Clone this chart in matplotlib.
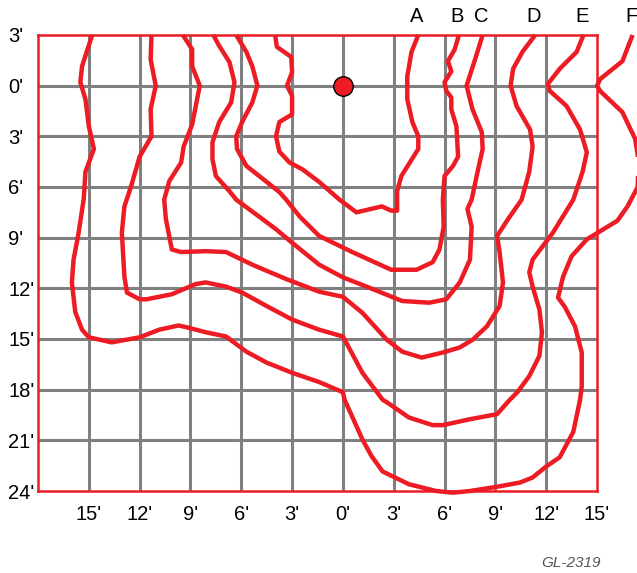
import matplotlib
matplotlib.use("Agg")
import matplotlib.pyplot as plt
from matplotlib import font_manager

# ---------------- data (feet) ----------------
curve_names = ["A", "B", "C", "D", "E", "F"]

A_x = [4.45, 4.05, 3.8, 3.8, 4.1, 4.45, 4.45, 3.95, 3.45, 3.2, 3.2, 3.2, 2.85, 2.3, 0.8, -0.2, -1.4, -2.4,
       -3.15, -3.75, -3.95, -3.75, -3.0, -3.0, -3.3, -3.0, -3.05, -3.9, -4.0]
A_y = [-3.0, -2.0, -0.55, 0.8, 2.15, 3.0, 3.75, 4.55, 5.35, 6.25, 6.75, 7.4, 7.4, 7.15, 7.5, 6.75, 5.7, 4.95,
       4.55, 3.9, 3.0, 2.15, 1.7, 0.6, 0.0, -0.8, -1.7, -2.3, -3.0]

B_x = [6.85, 6.6, 6.2, 6.4, 6.0, 6.1, 6.4, 6.4, 6.7, 6.8, 6.5, 6.0, 5.9, 5.95, 5.7, 5.3, 4.35, 2.85, 0.55,
       -1.4, -2.55, -3.35, -3.75, -4.5, -5.7, -6.25, -6.3, -5.95, -5.35, -5.05, -5.35, -5.7, -6.3]
B_y = [-3.0, -2.15, -1.45, -0.85, -0.2, 0.3, 0.7, 1.4, 2.4, 4.2, 4.75, 5.35, 6.75, 8.35, 9.7, 10.45, 10.9,
       10.9, 9.85, 8.9, 7.75, 6.75, 6.3, 5.7, 4.75, 3.75, 3.0, 2.15, 1.0, 0.0, -1.15, -2.0, -3.0]

C_x = [8.25, 7.8, 7.3, 7.65, 8.2, 8.25, 7.95, 7.6, 7.35, 7.6, 7.5, 6.9, 6.1, 5.1, 3.5, 1.4, 0.0, -1.4, -3.0,
       -3.95, -4.95, -6.3, -6.7, -7.5, -7.7, -7.7, -7.3, -6.6, -6.4, -6.7, -7.3, -7.65]
C_y = [-3.0, -1.55, 0.0, 1.4, 2.75, 3.75, 5.1, 6.75, 7.3, 8.35, 10.3, 11.65, 12.65, 12.85, 12.75, 11.9,
       11.35, 10.6, 9.3, 8.5, 7.75, 6.75, 6.25, 5.35, 4.35, 3.35, 2.15, 1.0, -0.2, -1.4, -2.35, -3.0]

D_x = [11.35, 10.6, 10.05, 9.9, 10.25, 11.05, 11.2, 11.0, 10.55, 9.75, 9.1, 9.25, 9.45, 9.25, 8.5, 7.65,
       6.9, 5.9, 4.65, 3.5, 2.6, 1.15, 0.0, -1.4, -3.35, -5.35, -6.9, -8.1, -9.55, -10.1, -10.45, -10.55,
       -10.25, -9.55, -9.4, -8.9, -8.45, -8.9, -8.9, -9.45]
D_y = [-3.0, -2.0, -1.0, 0.0, 1.2, 2.6, 3.6, 5.1, 6.75, 7.9, 8.9, 9.85, 11.65, 13.05, 14.25, 15.05, 15.5,
       15.8, 16.1, 15.75, 15.05, 13.45, 12.5, 12.2, 11.45, 10.6, 9.85, 9.8, 9.85, 9.7, 7.9, 6.75, 5.65,
       4.55, 3.6, 2.3, 0.0, -1.15, -2.15, -3.0]

E_x = [14.2, 13.8, 12.8, 12.1, 12.2, 13.2, 14.0, 14.4, 14.15, 13.6, 12.4, 11.2, 11.0, 11.2, 11.6, 11.75,
       11.6, 11.0, 10.3, 9.85, 9.1, 7.5, 5.9, 5.3, 3.9, 2.6, 2.35, 1.15, 0.0, -1.4, -3.0, -4.5, -5.95, -6.9,
       -8.1, -8.7, -10.1, -11.6, -12.0, -12.75, -12.9, -13.05, -12.9, -12.5, -12.0, -11.3, -11.35, -11.05,
       -11.35, -11.3]
E_y = [-3.0, -2.0, -1.0, -0.1, 0.3, 1.2, 2.6, 3.95, 5.1, 6.75, 8.7, 10.3, 11.05, 11.9, 13.25, 14.6, 16.0,
       17.2, 18.15, 18.6, 19.45, 19.75, 20.1, 20.1, 19.65, 18.75, 18.6, 17.0, 14.85, 14.45, 13.85, 13.05,
       12.25, 11.9, 11.65, 11.75, 12.35, 12.65, 12.65, 12.25, 11.3, 8.7, 7.15, 5.95, 4.2, 3.0, 1.4, 0.0,
       -1.55, -3.0]

F_x = [17.1, 16.5, 15.2, 15.0, 15.2, 16.5, 17.25, 17.45, 17.4, 16.8, 16.2, 14.4, 13.5, 13.0, 12.7, 13.1,
       13.7, 14.1, 14.1, 14.0, 13.6, 12.8, 12.0, 11.2, 10.45, 9.1, 7.5, 6.5, 5.5, 3.9, 2.35, 1.7, 1.15,
       0.55, 0.1, 0.0, -1.4, -3.0, -4.5, -5.7, -6.9, -8.1, -9.25, -9.7, -10.85, -12.0, -13.65, -15.0, -15.4,
       -15.8, -16.0, -15.9, -15.6, -15.3, -15.2, -14.7, -15.0, -15.2, -15.5, -15.4, -14.8]
F_y = [-3.0, -1.45, -0.4, 0.0, 0.33, 1.57, 3.15, 4.4, 6.0, 7.15, 8.0, 9.1, 10.1, 11.3, 12.55, 13.1, 14.25,
       15.8, 17.8, 18.6, 20.5, 22.0, 22.55, 23.2, 23.5, 23.75, 24.0, 24.1, 24.0, 23.6, 22.85, 21.95, 20.95,
       19.6, 18.6, 18.15, 17.55, 17.0, 16.4, 15.75, 14.85, 14.6, 14.3, 14.2, 14.45, 14.9, 15.2, 14.9, 14.45,
       13.4, 11.65, 10.3, 8.7, 6.7, 5.1, 3.75, 2.4, 0.8, -0.2, -1.15, -3.0]

curves_x = [A_x, B_x, C_x, D_x, E_x, F_x]
curves_y = [A_y, B_y, C_y, D_y, E_y, F_y]

x_ticks = [-15, -12, -9, -6, -3, 0, 3, 6, 9, 12, 15]
x_tick_labels = ["15'", "12'", "9'", "6'", "3'", "0'", "3'", "6'", "9'", "12'", "15'"]
y_ticks = [-3, 0, 3, 6, 9, 12, 15, 18, 21, 24]
y_tick_labels = ["3'", "0'", "3'", "6'", "9'", "12'", "15'", "18'", "21'", "24'"]
marker_x, marker_y = [0], [0]
code_label = "GL-2319"

# ---------------- style ----------------
names = {f.name for f in font_manager.fontManager.ttflist}
FONT = ["Liberation Sans Narrow", "DejaVu Sans"] if "Liberation Sans Narrow" in names else ["Liberation Sans", "DejaVu Sans"]
plt.rcParams["font.family"] = FONT

RED = "#ED1C24"
GRAY = "#808080"

W, H = 637, 573
fig = plt.figure(figsize=(W / 100, H / 100), dpi=100)
ax = fig.add_axes([38 / W, (H - 491) / H, 559 / W, 456 / H])
ax.set_xlim(-18, 15)
ax.set_ylim(24, -3)

for v in x_ticks[:-1]:
    ax.axvline(v, color=GRAY, lw=2.2, zorder=1)
for h in y_ticks[1:-1]:
    ax.axhline(h, color=GRAY, lw=2.2, zorder=1)

for s in ax.spines.values():
    s.set_color(RED)
    s.set_linewidth(1.8)
    s.set_zorder(2)

ax.set_xticks(x_ticks)
ax.set_xticklabels(x_tick_labels, fontsize=14.5)
ax.set_yticks(y_ticks)
ax.set_yticklabels(y_tick_labels, fontsize=14.5)
ax.tick_params(axis="both", length=0)
ax.tick_params(axis="x", pad=10)
ax.tick_params(axis="y", pad=21.5)
for lab in ax.get_yticklabels():
    lab.set_horizontalalignment("left")

for name, cx, cy in zip(curve_names, curves_x, curves_y):
    ax.plot(cx, cy, color=RED, lw=3.2, solid_joinstyle="round", solid_capstyle="butt",
            zorder=3, clip_on=False)
    ax.annotate(name, xy=(cx[0], cy[0]), xytext=(-1, 13.5), textcoords="offset points",
                ha="center", va="center", fontsize=14.5, annotation_clip=False)

ax.plot(marker_x, marker_y, "o", ms=14, mfc=RED, mec="black", mew=1.0, zorder=4)

fig.text(601 / W, 1 - 563 / H, code_label, ha="right", va="center", fontsize=11,
         style="italic", color="#555555")

fig.savefig("out.png", dpi=100)
